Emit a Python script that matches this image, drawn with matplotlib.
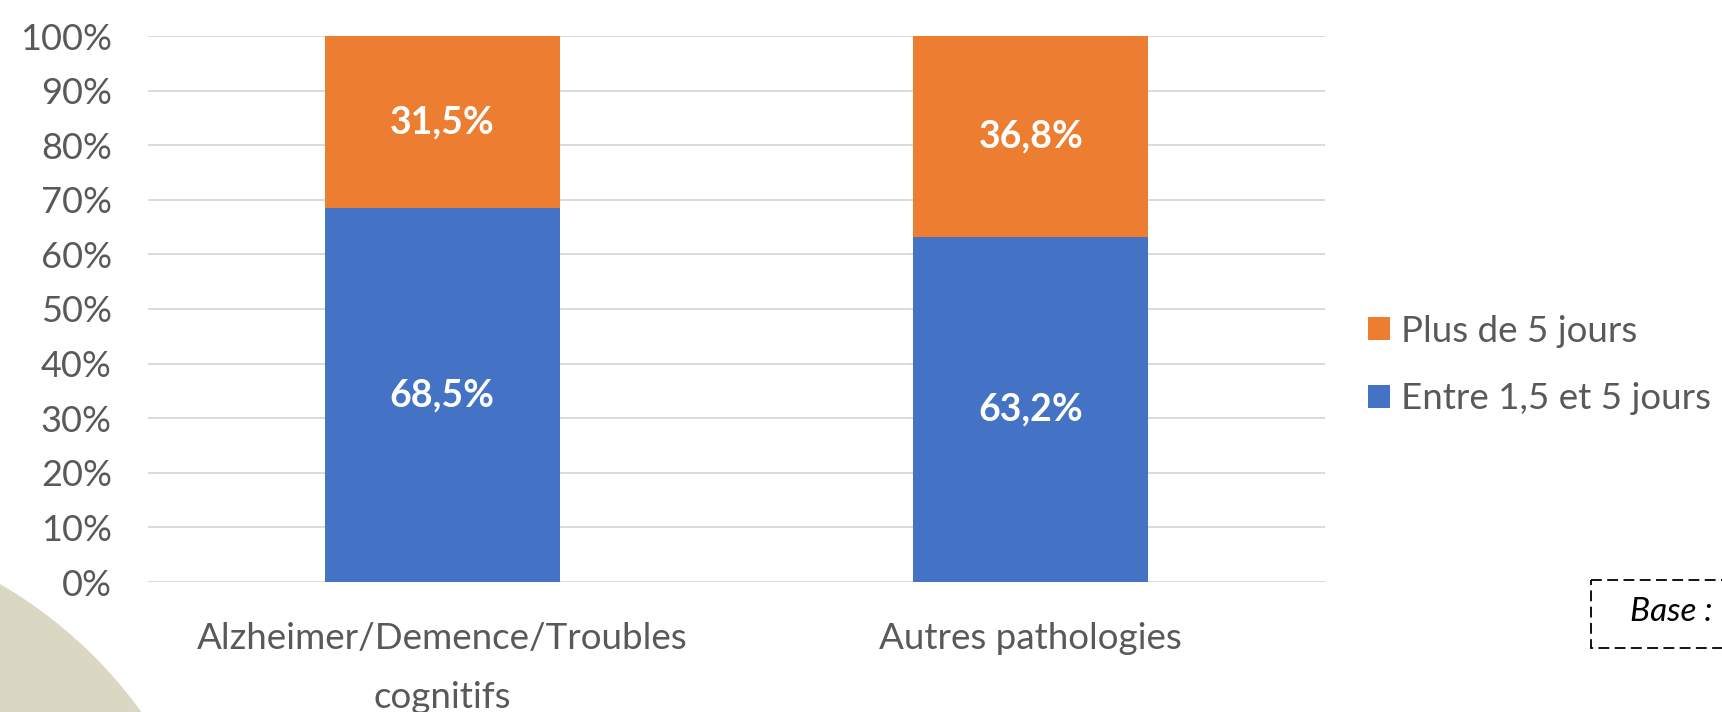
import matplotlib
matplotlib.use("Agg")
import matplotlib.pyplot as plt
from matplotlib.patches import Circle, Rectangle

categories = ["Alzheimer/Demence/Troubles\ncognitifs", "Autres pathologies"]
entre_vals = [68.5, 63.2]
plus_vals = [31.5, 36.8]
series_names = ["Entre 1,5 et 5 jours", "Plus de 5 jours"]
ytick_vals = [0, 10, 20, 30, 40, 50, 60, 70, 80, 90, 100]

BLUE = "#4472C4"
ORANGE = "#ED7D31"
GREY = "#595959"
FONT = "Lato"

plt.rcParams["font.family"] = [FONT, "DejaVu Sans"]

W, H = 1722, 712
fig = plt.figure(figsize=(W / 100, H / 100), dpi=100)
fig.patch.set_facecolor("white")

# background decoration axes (pixel coords)
bg = fig.add_axes([0, 0, 1, 1], zorder=0)
bg.set_xlim(0, W)
bg.set_ylim(H, 0)
bg.axis("off")
bg.add_patch(Circle((-230, 980), 458, facecolor="#DAD7C2", edgecolor="none"))
# "Base" dashed box (runs off the right edge, as in the reference)
bg.add_patch(Rectangle((1591, 580), 200, 68, facecolor="none", edgecolor="black",
                       lw=1.3, linestyle=(0, (6, 3)), clip_on=True))
bg.text(1630, 612, "Base :", fontsize=24, style="italic", color="black",
        va="center", ha="left")

# main axes
left, right, top, bottom = 148, 1325, 36, 582
ax = fig.add_axes([left / W, (H - bottom) / H, (right - left) / W, (bottom - top) / H], zorder=1)
ax.set_facecolor("none")

x = list(range(len(categories)))
width = 0.40
b1 = ax.bar(x, entre_vals, width, color=BLUE, label=series_names[0], zorder=3)
b2 = ax.bar(x, plus_vals, width, bottom=entre_vals, color=ORANGE, label=series_names[1], zorder=3)

for bars, vals, bots in ((b1, entre_vals, [0, 0]), (b2, plus_vals, entre_vals)):
    for rect, v, b in zip(bars, vals, bots):
        ax.text(rect.get_x() + rect.get_width() / 2, b + v / 2,
                f"{v:.1f}%".replace(".", ","), ha="center", va="center",
                color="white", fontsize=27, fontweight="bold", zorder=4)

ax.set_xlim(-0.5, 1.5)
ax.set_ylim(0, 100)
ax.set_yticks(ytick_vals)
ax.set_yticklabels([f"{v}%" for v in ytick_vals])
ax.set_xticks(x)
ax.set_xticklabels(categories, linespacing=1.95)
ax.yaxis.grid(True, color="#D9D9D9", lw=1.4, zorder=0)
ax.set_axisbelow(True)
for s in ax.spines.values():
    s.set_visible(False)
ax.tick_params(axis="y", length=0, pad=26, labelsize=26, labelcolor=GREY)
ax.tick_params(axis="x", length=0, pad=29, labelsize=26.5, labelcolor=GREY)

handles = [b2, b1]
labels = [series_names[1], series_names[0]]
leg = fig.legend(handles, labels, loc="center left", bbox_to_anchor=(1368 / W, (H - 365) / H),
                 frameon=False, fontsize=26.5, handlelength=0.6, handleheight=0.6,
                 handletextpad=0.3, labelspacing=0.95, borderpad=0, borderaxespad=0)
for t in leg.get_texts():
    t.set_color(GREY)

fig.savefig("out.png", dpi=100, facecolor="white")
